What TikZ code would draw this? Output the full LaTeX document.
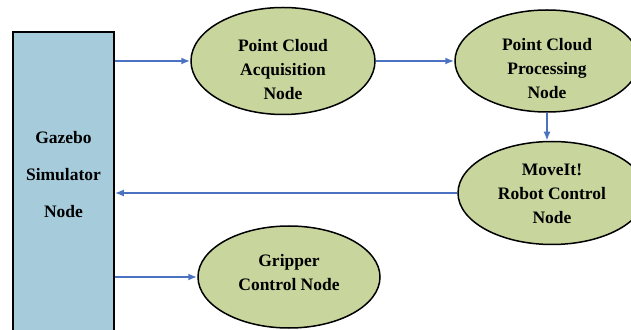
\documentclass[tikz,border=0pt]{standalone}
\usepackage{fontspec}
\setmainfont{Liberation Serif}[BoldFont={Liberation Serif Bold}]
\usetikzlibrary{shapes,arrows.meta,positioning,calc}
\definecolor{simblue}{HTML}{A6CCDC}
\definecolor{rosgreen}{HTML}{C8D69E}
\definecolor{linkblue}{HTML}{4A72C0}
\tikzset{
	x=1pt,y=1pt,
	simbox/.style ={rectangle, draw, line width=1.6pt, fill=simblue, minimum width=101pt, minimum height=307pt},
	rosnode/.style ={ellipse, draw, line width=1.5pt, fill=rosgreen, inner sep=0pt},
	rostext/.style ={align=center, inner sep=0pt, font=\fontsize{17.5}{24}\selectfont\bfseries},
	link/.style = {-{Latex[length=9pt,width=7pt]}, draw=linkblue, line width=1.8pt}
}
\begin{document}
\begin{tikzpicture}
    \useasboundingbox (0,0) rectangle (631,329);

    \node[simbox] (gazebo) at (63.5,143.5) {};
    \node[align=center, font=\fontsize{17.5}{37}\selectfont\bfseries] (gztext) at (63.5,154) {Gazebo\\Simulator\\Node};

    \node[rosnode, minimum width=184pt, minimum height=107pt] (acq) at (283,268) {};
    \node[rosnode, minimum width=184pt, minimum height=102pt] (proc) at (547,268) {};
    \node[rosnode, minimum width=188pt, minimum height=103pt] (moveit) at (552,136) {};
    \node[rosnode, minimum width=182pt, minimum height=102pt] (grip) at (289,52) {};

    \node[rostext] (acqtext) at ([yshift=-9pt]acq.center) {Point Cloud\\Acquisition\\Node};
    \node[rostext] (proctext) at ([yshift=-8pt]proc.center) {Point Cloud\\Processing\\Node};
    \node[rostext] (moveittext) at ([yshift=-1pt]moveit.center) {MoveIt!\\Robot Control\\Node};
    \node[rostext] (griptext) at ([yshift=4.5pt]grip.center) {Gripper\\Control Node};

    \path[link] (gazebo.east |- acq.west) -- (acq.west);
    \path[link] (acq.east) -- (proc.west);
    \path[link] (proc.south) -- (proc.south |- moveit.north);
    \path[link] (moveit.west) -- (moveit.west -| gazebo.east);
    \path[link] (gazebo.east |- grip.west) -- (grip.west);

\end{tikzpicture}
\end{document}
